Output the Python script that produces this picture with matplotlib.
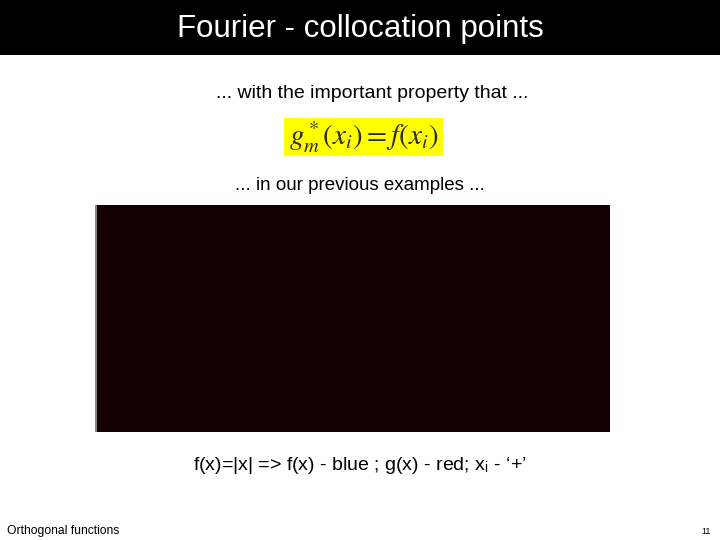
import matplotlib
matplotlib.use("Agg")
import matplotlib.pyplot as plt
from matplotlib.patches import Rectangle

plt.rcParams["font.family"] = ["Liberation Sans", "DejaVu Sans"]
plt.rcParams["mathtext.fontset"] = "stix"

# f(x) = |x| extended periodically (vertices)
fx = [-10, -9.42, -6.28, -3.14, 0, 3.14, 6.28, 9.42, 10]
fy = [2.56, 3.14, 0, 3.14, 0, 3.14, 0, 3.14, 2.56]
# g(x) approximation, nearly the same curve
gx = [-10, -9.42, -6.28, -3.14, 0, 3.14, 6.28, 9.42, 10]
gy = [2.52, 3.05, 0.08, 3.05, 0.08, 3.05, 0.08, 3.05, 2.52]
# collocation points
xi = [-6.28, -4.71, -3.14, -1.57, 0, 1.57, 3.14, 4.71, 6.28]
yi = [0, 1.57, 3.14, 1.57, 0, 1.57, 3.14, 1.57, 0]

xticks = [-10, -5, 0, 5, 10]
yticks = [0, 0.5, 1, 1.5, 2, 2.5, 3, 3.5]

fig = plt.figure(figsize=(7.2, 5.4), dpi=100)
fig.patch.set_facecolor("white")

# title bar
fig.patches.append(Rectangle((0, 1 - 55 / 540), 1, 55 / 540, transform=fig.transFigure,
                             facecolor="black", edgecolor="none", zorder=0))
fig.text(0.5, 1 - 29 / 540, "Fourier - collocation points", color="white",
         fontsize=22.5, ha="center", va="center")

fig.text(372 / 720, 1 - 93 / 540, "... with the important property that ...",
         fontsize=14, ha="center", va="center")

# yellow formula box
fig.patches.append(Rectangle((284 / 720, 1 - 156 / 540), 159 / 720, 38 / 540,
                             transform=fig.transFigure, facecolor="#ffff00",
                             edgecolor="none", zorder=0))
fig.text(364 / 720, 1 - 137 / 540, r"$g^*_m(x_i) = f(x_i)$", fontsize=21,
         ha="center", va="center", color="#2a2a2a")

fig.text(360 / 720, 1 - 185 / 540, "... in our previous examples ...",
         fontsize=13.5, ha="center", va="center")

# dark picture frame
bg = "#130000"
fig.patches.append(Rectangle((96 / 720, 1 - 432 / 540), 514 / 720, 227 / 540,
                             transform=fig.transFigure, facecolor=bg,
                             edgecolor="none", zorder=0))
fig.patches.append(Rectangle((95 / 720, 1 - 432 / 540), 1.5 / 720, 227 / 540,
                             transform=fig.transFigure, facecolor="#888888",
                             edgecolor="none", zorder=0))

ax = fig.add_axes([163 / 720, 1 - 407 / 540, 398 / 720, 185 / 540])
ax.set_facecolor(bg)
ax.plot(fx, fy, color="#240909", lw=0.8)
ax.plot(gx, gy, color="#220707", lw=0.8)
ax.plot(xi, yi, "+", color="#220707", ms=5)
ax.set_xlim(-10, 10)
ax.set_ylim(0, 3.5)
ax.set_xticks(xticks)
ax.set_yticks(yticks)
ax.set_xticklabels([str(t) for t in xticks])
ax.set_yticklabels([str(t) for t in yticks])
ax.tick_params(colors="#030000", labelsize=7, direction="in", length=3)
for s in ax.spines.values():
    s.set_color("#030000")
    s.set_linewidth(1.2)

fig.text(360 / 720, 1 - 466 / 540,
         "f(x)=|x| => f(x) - blue ; g(x) - red; x$_\\mathregular{i}$ - \u2018+\u2019",
         fontsize=14, ha="center", va="center")

fig.text(7 / 720, 1 - 531 / 540, "Orthogonal functions", fontsize=8.7,
         ha="left", va="center")
fig.text(711 / 720, 1 - 531 / 540, "11", fontsize=6.5, ha="right", va="center")

fig.savefig("out.png", dpi=100, facecolor=fig.get_facecolor())
